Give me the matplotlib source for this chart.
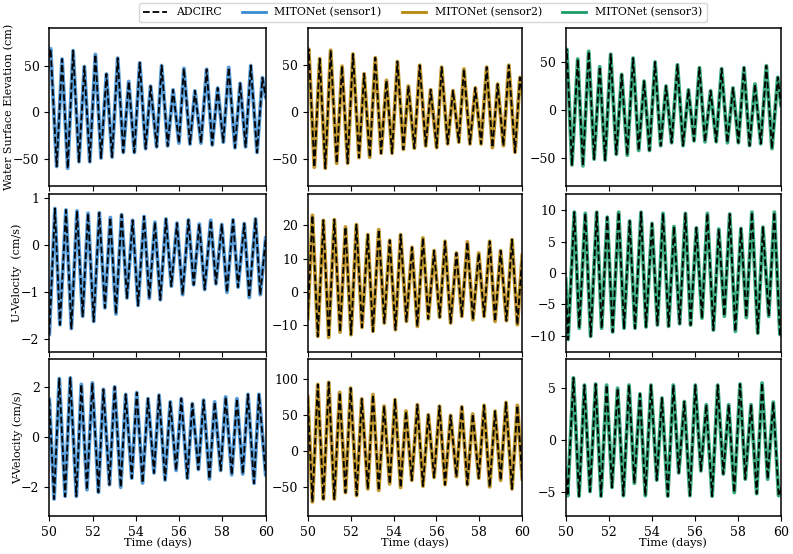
import numpy as np
import matplotlib
matplotlib.use("Agg")
import matplotlib.pyplot as plt
from matplotlib.lines import Line2D

plt.rcParams['font.family'] = ['DejaVu Serif']
plt.rcParams['font.size'] = 8.0

# ---------------- data (extrema) ----------------
# Row 1: water surface elevation (cm)
wse1_start, wse1_end = 60, 16
wse1_peak_t = [50.06, 50.59, 51.10, 51.62, 52.13, 52.64, 53.16, 53.67, 54.18, 54.68, 55.19, 55.72, 56.22, 56.73, 57.27, 57.78, 58.29, 58.82, 59.31, 59.85]
wse1_peak_v = [68, 57, 66, 49, 62, 41, 58, 33, 53, 28, 50, 24, 47, 23, 46, 26, 48, 31, 50, 37]
wse1_trough_t = [50.34, 50.85, 51.37, 51.87, 52.39, 52.90, 53.42, 53.93, 54.45, 54.96, 55.47, 55.99, 56.50, 57.01, 57.53, 58.04, 58.58, 59.07, 59.60]
wse1_trough_v = [-58, -60, -53, -53, -49, -48, -43, -43, -39, -37, -36, -33, -34, -33, -35, -32, -38, -37, -43]

wse2_start, wse2_end = 62, 20
wse2_peak_t = [50.05, 50.56, 51.07, 51.60, 52.11, 52.63, 53.15, 53.67, 54.18, 54.69, 55.22, 55.73, 56.24, 56.77, 57.28, 57.81, 58.34, 58.85, 59.37, 59.89]
wse2_peak_v = [67, 57, 66, 49, 62, 41, 58, 34, 54, 28, 50, 24, 48, 23, 46, 26, 48, 30, 50, 37]
wse2_trough_t = [50.31, 50.82, 51.35, 51.86, 52.39, 52.89, 53.42, 53.93, 54.46, 54.97, 55.50, 56.01, 56.52, 57.04, 57.56, 58.08, 58.61, 59.12, 59.66]
wse2_trough_v = [-58.5, -59.6, -54.3, -54.3, -48.2, -47.9, -43.6, -43.6, -39.4, -38.3, -35.8, -37.6, -33.7, -31.9, -33.7, -33.7, -37.6, -35.5, -42.6]

wse3_start, wse3_end = 57, 5
wse3_peak_t = [50.05, 50.56, 51.07, 51.58, 52.09, 52.60, 53.13, 53.64, 54.15, 54.66, 55.19, 55.70, 56.21, 56.73, 57.24, 57.77, 58.28, 58.79, 59.32, 59.85]
wse3_peak_v = [63, 53, 61, 45, 58, 37, 54, 30, 50, 25, 47, 21, 44, 20, 43, 23, 44, 27, 46, 34]
wse3_trough_t = [50.29, 50.80, 51.32, 51.83, 52.35, 52.86, 53.39, 53.89, 54.41, 54.92, 55.45, 55.96, 56.47, 56.99, 57.51, 58.02, 58.54, 59.06, 59.58]
wse3_trough_v = [-57, -58, -51, -52, -46, -47, -42, -42, -37, -34, -37, -32, -33, -33, -34, -34, -37, -35, -40]

# Row 2: U-velocity (cm/s)
u1_start, u1_end = -1.9, 0.14
u1_peak_t = [50.26, 50.77, 51.28, 51.79, 52.31, 52.82, 53.34, 53.85, 54.38, 54.88, 55.39, 55.90, 56.43, 56.93, 57.46, 57.97, 58.49, 59.01, 59.53]
u1_peak_v = [0.77, 0.74, 0.72, 0.67, 0.68, 0.58, 0.64, 0.52, 0.60, 0.48, 0.55, 0.46, 0.53, 0.44, 0.52, 0.43, 0.53, 0.45, 0.55]
u1_trough_t = [50.49, 51.02, 51.54, 52.05, 52.57, 53.08, 53.59, 54.10, 54.62, 55.13, 55.64, 56.16, 56.67, 57.18, 57.70, 58.21, 58.72, 59.24, 59.75]
u1_trough_v = [-1.70, -1.78, -1.52, -1.63, -1.34, -1.47, -1.13, -1.29, -1.14, -1.17, -0.88, -1.06, -0.85, -0.95, -0.83, -1.01, -0.90, -1.12, -1.06]

u2_start, u2_end = -8, 11
u2_peak_t = [50.22, 50.73, 51.24, 51.76, 52.27, 52.80, 53.31, 53.82, 54.33, 54.86, 55.37, 55.89, 56.40, 56.93, 57.44, 57.97, 58.48, 58.99, 59.52]
u2_peak_v = [23, 21.5, 21.7, 19.5, 20.2, 17.2, 18.7, 15.5, 17.2, 13.4, 16.2, 12.4, 15.2, 11.7, 15, 11.7, 15.2, 12.4, 15.7]
u2_trough_t = [50.47, 50.98, 51.51, 52.02, 52.53, 53.04, 53.57, 54.09, 54.60, 55.11, 55.62, 56.15, 56.66, 57.18, 57.70, 58.22, 58.73, 59.26, 59.77]
u2_trough_v = [-13.3, -13.6, -12, -12.8, -10.6, -11.8, -9.3, -11.3, -8.8, -10.3, -8, -7.6, -9.3, -7.3, -8.3, -7.3, -8.8, -8.6, -9.8]

u3_start, u3_end = -1, -9.6
u3_peak_t = [50.40, 50.91, 51.44, 51.93, 52.46, 52.97, 53.50, 54.01, 54.52, 55.03, 55.56, 56.07, 56.58, 57.11, 57.62, 58.14, 58.65, 59.16, 59.69]
u3_peak_v = [9.7, 9.5, 9.7, 8.9, 9.7, 8.3, 9.7, 7.9, 9.5, 7.4, 9.5, 7.2, 9.5, 7.0, 9.4, 7.1, 9.7, 7.3, 9.7]
u3_trough_t = [50.11, 50.63, 51.16, 51.67, 52.18, 52.71, 53.22, 53.73, 54.26, 54.78, 55.29, 55.80, 56.33, 56.86, 57.37, 57.88, 58.39, 58.92, 59.43, 59.95]
u3_trough_v = [-10.6, -8.8, -10.1, -8.8, -9.4, -8.8, -8.8, -8.6, -8.3, -8.5, -8.1, -8.3, -7.2, -9.1, -6.9, -9.3, -7.1, -9.6, -6.9, -9.8]

# Row 3: V-velocity (cm/s)
v1_start, v1_end = 1.5, -1.5
v1_peak_t = [50.46, 50.97, 51.48, 51.99, 52.50, 53.02, 53.53, 54.04, 54.56, 55.07, 55.59, 56.10, 56.61, 57.13, 57.64, 58.15, 58.67, 59.18, 59.69]
v1_peak_v = [2.33, 2.36, 2.10, 2.16, 1.90, 2.00, 1.70, 1.77, 1.53, 1.67, 1.40, 1.53, 1.33, 1.47, 1.40, 1.60, 1.53, 1.70, 1.70]
v1_trough_t = [50.22, 50.73, 51.25, 51.74, 52.27, 52.78, 53.30, 53.81, 54.31, 54.84, 55.35, 55.86, 56.38, 56.89, 57.40, 57.92, 58.43, 58.94, 59.46]
v1_trough_v = [-2.47, -2.36, -2.36, -2.10, -2.20, -1.90, -2.00, -1.64, -1.83, -1.43, -1.71, -1.33, -1.64, -1.29, -1.67, -1.33, -1.50, -1.47, -1.84]

v2_start, v2_end = 75, -39
v2_peak_t = [50.47, 50.98, 51.49, 52.00, 52.52, 53.04, 53.56, 54.07, 54.58, 55.11, 55.62, 56.14, 56.66, 57.18, 57.69, 58.22, 58.73, 59.24, 59.77]
v2_peak_v = [92, 95, 81, 87, 72, 78, 62, 71, 55, 64, 50, 62, 49, 61, 51, 63, 55, 67, 63]
v2_trough_t = [50.22, 50.73, 51.24, 51.76, 52.28, 52.80, 53.31, 53.82, 54.33, 54.85, 55.37, 55.89, 56.40, 56.93, 57.44, 57.97, 58.48, 58.99, 59.52]
v2_trough_v = [-71, -67, -67, -58, -62, -53, -55, -46, -51, -41, -49, -37, -47, -36, -47, -38, -50, -41, -53]

v3_start, v3_end = -2.8, -4.8
v3_peak_t = [50.36, 50.87, 51.39, 51.90, 52.41, 52.94, 53.45, 53.96, 54.47, 55.00, 55.51, 56.02, 56.53, 57.06, 57.57, 58.10, 58.61, 59.12, 59.64]
v3_peak_v = [6.0, 5.3, 5.4, 5.3, 5.0, 5.3, 4.45, 5.3, 4.05, 5.3, 3.7, 5.3, 3.4, 5.3, 3.4, 5.4, 3.4, 5.5, 3.65]
v3_trough_t = [50.09, 50.62, 51.13, 51.64, 52.15, 52.68, 53.19, 53.70, 54.23, 54.74, 55.25, 55.77, 56.28, 56.80, 57.32, 57.83, 58.34, 58.87, 59.38, 59.89]
v3_trough_v = [-5.4, -5.45, -5.0, -5.45, -4.6, -5.4, -4.2, -5.4, -3.9, -5.45, -3.2, -5.4, -3.0, -5.45, -3.3, -5.1, -3.8, -5.2, -3.8, -5.4]

t_start, t_end = 50.0, 60.0
row_labels = ["Water Surface Elevation (cm)", "U-Velocity  (cm/s)", "V-Velocity (cm/s)"]
series_labels = ["ADCIRC", "MITONet (sensor1)", "MITONet (sensor2)", "MITONet (sensor3)"]
x_ticks = [50, 52, 54, 56, 58, 60]
y_ticks = [[[-50, 0, 50], [-50, 0, 50], [-50, 0, 50]],
           [[-2, -1, 0, 1], [-10, 0, 10, 20], [-10, -5, 0, 5, 10]],
           [[-2, 0, 2], [-50, 0, 50, 100], [-5, 0, 5]]]
y_limits = [[(-79, 90), (-78.5, 89.4), (-79, 85)],
            [(-2.28, 1.08), (-18, 29.4), (-12.6, 12.6)],
            [(-3.16, 3.1), (-91, 127), (-7.4, 7.8)]]

panels = [
    [(wse1_start, wse1_peak_t, wse1_peak_v, wse1_trough_t, wse1_trough_v, wse1_end),
     (wse2_start, wse2_peak_t, wse2_peak_v, wse2_trough_t, wse2_trough_v, wse2_end),
     (wse3_start, wse3_peak_t, wse3_peak_v, wse3_trough_t, wse3_trough_v, wse3_end)],
    [(u1_start, u1_peak_t, u1_peak_v, u1_trough_t, u1_trough_v, u1_end),
     (u2_start, u2_peak_t, u2_peak_v, u2_trough_t, u2_trough_v, u2_end),
     (u3_start, u3_peak_t, u3_peak_v, u3_trough_t, u3_trough_v, u3_end)],
    [(v1_start, v1_peak_t, v1_peak_v, v1_trough_t, v1_trough_v, v1_end),
     (v2_start, v2_peak_t, v2_peak_v, v2_trough_t, v2_trough_v, v2_end),
     (v3_start, v3_peak_t, v3_peak_v, v3_trough_t, v3_trough_v, v3_end)],
]

colors = ['#3b8bd0', '#b8860b', '#1a9e68']


def build(p):
    s, pt, pv, tt, tv, e = p
    t = np.array([t_start] + list(pt) + list(tt) + [t_end], dtype=float)
    v = np.array([s] + list(pv) + list(tv) + [e], dtype=float)
    order = np.argsort(t)
    return t[order], v[order]


fig = plt.figure(figsize=(7.93, 5.54), dpi=100)
W, H = 793.0, 554.0
col_x = [(49.3, 265.7), (307.7, 522.3), (565.7, 781.0)]
row_y = [(28.3, 186.0), (194.0, 352.0), (359.3, 516.3)]
ylabel_anchor_x = [14, 22, 23]   # right edge of the rotated label, figure pixels

for r in range(3):
    for c in range(3):
        x0, x1 = col_x[c]
        y0, y1 = row_y[r]
        ax = fig.add_axes([x0 / W, 1 - y1 / H, (x1 - x0) / W, (y1 - y0) / H])
        t, v = build(panels[r][c])
        ax.plot(t, v, color=colors[c], lw=2.8, alpha=0.85, solid_joinstyle='round', zorder=2)
        ax.plot(t, v, color='black', lw=1.3, ls='--', zorder=3)
        ax.set_xlim(50, 60)
        ax.set_ylim(*y_limits[r][c])
        ax.set_xticks(x_ticks)
        ax.set_yticks(y_ticks[r][c])
        ax.tick_params(labelsize=9)
        for sp in ax.spines.values():
            sp.set_linewidth(1.1)
        if r < 2:
            ax.set_xticklabels([])
        else:
            ax.set_xlabel("Time (days)", labelpad=-1, fontsize=8.2)
        if c == 0:
            ax.set_ylabel(row_labels[r], fontsize=8.0)
            ax.yaxis.set_label_coords((ylabel_anchor_x[r] - x0) / (x1 - x0), 0.5)

handles = [Line2D([], [], color='black', ls='--', lw=1.3)] + \
          [Line2D([], [], color=colors[i], lw=2.0) for i in range(3)]
fig.legend(handles, series_labels, loc='upper center', bbox_to_anchor=(0.533, 0.995),
           ncol=4, frameon=True, fontsize=7.8, borderaxespad=0, columnspacing=1.9,
           handlelength=2.2)

fig.savefig("out.png", dpi=100)
